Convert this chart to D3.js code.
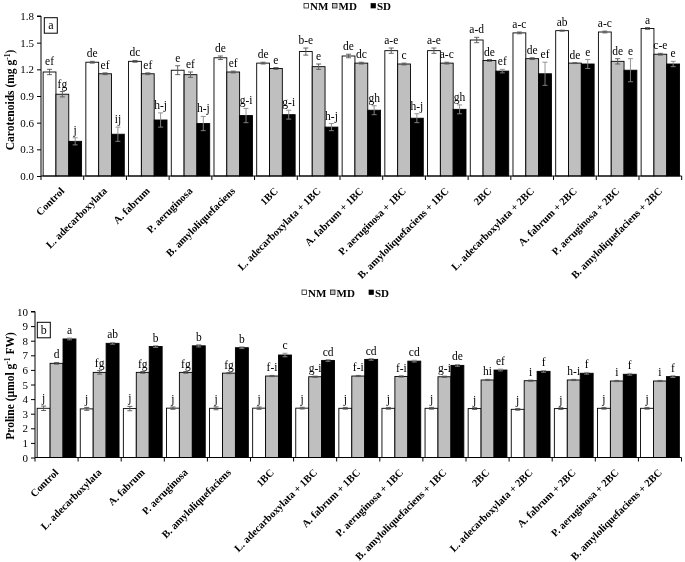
<!DOCTYPE html>
<html><head><meta charset="utf-8">
<script src="https://cdn.jsdelivr.net/npm/d3@7/dist/d3.min.js"></script>
<style>body{margin:0;background:#fff}svg{display:block;will-change:transform;-webkit-font-smoothing:antialiased}</style>
</head><body>
<svg id="c" width="685" height="562"></svg>
<script>
const categories = ["Control","L. adecarboxylata","A. fabrum","P. aeruginosa","B. amyloliquefaciens","1BC","L. adecarboxylata + 1BC","A. fabrum + 1BC","P. aeruginosa + 1BC","B. amyloliquefaciens + 1BC","2BC","L. adecarboxylata + 2BC","A. fabrum + 2BC","P. aeruginosa + 2BC","B. amyloliquefaciens + 2BC"];
const seriesNames = ["NM","MD","SD"];

// Carotenoids (mg g-1)
const carNM = [1.17,1.28,1.29,1.19,1.33,1.27,1.40,1.35,1.41,1.41,1.53,1.61,1.635,1.62,1.66];
const carMD = [0.92,1.15,1.15,1.14,1.17,1.21,1.23,1.27,1.26,1.27,1.30,1.32,1.27,1.29,1.37];
const carSD = [0.39,0.47,0.63,0.59,0.68,0.69,0.55,0.74,0.65,0.75,1.18,1.15,1.26,1.19,1.26];
const carNMerr = [0.03,0.01,0.01,0.05,0.02,0.01,0.04,0.02,0.03,0.03,0.03,0.01,0.006,0.01,0.01];
const carMDerr = [0.03,0.01,0.01,0.03,0.01,0.01,0.03,0.01,0.01,0.01,0.01,0.01,0.005,0.03,0.01];
const carSDerr = [0.04,0.08,0.08,0.08,0.08,0.05,0.04,0.05,0.05,0.05,0.02,0.13,0.05,0.13,0.03];
const carNMlet = ["ef","de","dc","e","de","de","b-e","de","a-e","a-e","a-d","a-c","ab","a-c","a"];
const carMDlet = ["fg","ef","ef","ef","ef","e","e","dc","c","a-c","de","de","de","de","c-e"];
const carSDlet = ["j","ij","h-j","h-j","g-i","g-i","h-j","gh","h-j","gh","ef","ef","e","e","e"];
const carTicks = [0,0.3,0.6,0.9,1.2,1.5,1.8];

// Proline (µmol g-1 FW)
const proNM = [3.37,3.33,3.35,3.38,3.37,3.38,3.38,3.37,3.37,3.37,3.35,3.30,3.35,3.37,3.37];
const proMD = [6.45,5.83,5.83,5.83,5.78,5.58,5.53,5.58,5.55,5.53,5.31,5.26,5.31,5.24,5.24];
const proSD = [8.12,7.82,7.60,7.65,7.52,7.02,6.65,6.72,6.60,6.31,5.99,5.90,5.77,5.70,5.54];
const proNMerr = [0.15,0.10,0.15,0.08,0.10,0.08,0.06,0.06,0.06,0.06,0.06,0.06,0.06,0.06,0.06];
const proMDerr = [0.06,0.12,0.06,0.06,0.04,0.04,0.04,0.04,0.04,0.04,0.04,0.04,0.04,0.04,0.04];
const proSDerr = [0.06,0.06,0.06,0.08,0.06,0.12,0.06,0.06,0.06,0.06,0.06,0.06,0.06,0.06,0.06];
const proNMlet = ["j","j","j","j","j","j","j","j","j","j","j","j","j","j","j"];
const proMDlet = ["d","fg","fg","fg","fg","f-i","g-i","f-i","f-i","g-i","hi","i","h-i","i","i"];
const proSDlet = ["a","ab","b","b","b","c","cd","cd","cd","de","ef","f","f","f","f"];
const proTicks = [0,1,2,3,4,5,6,7,8,9,10];

const svg = d3.select("#c");
const FONT = "'Liberation Serif','Times New Roman',Times,serif";
const fills = {NM:"#ffffff", MD:"#bfbfbf", SD:"#000000"};

function panel(cfg){
  const g = svg.append("g");
  const x0 = d3.scaleBand().domain(categories).range([cfg.x0, cfg.x1]).paddingInner(0.1).paddingOuter(0.05);
  const x1 = d3.scaleBand().domain(seriesNames).range([0, x0.bandwidth()]);
  const y = d3.scaleLinear().domain(cfg.domain).range([cfg.yb, cfg.yt]);
  const step = x0.step();

  const vals = {NM:cfg.nm, MD:cfg.md, SD:cfg.sd};
  const errs = {NM:cfg.nme, MD:cfg.mde, SD:cfg.sde};
  const lets = {NM:cfg.nml, MD:cfg.mdl, SD:cfg.sdl};

  const rows = [];
  categories.forEach((c,i)=>seriesNames.forEach(s=>rows.push({c,s,v:vals[s][i],e:errs[s][i],l:lets[s][i]})));
  const cx = d=>x0(d.c)+x1(d.s)+x1.bandwidth()/2;

  g.selectAll("rect.bar").data(rows).enter().append("rect")
    .attr("x", d=>x0(d.c)+x1(d.s)).attr("width", x1.bandwidth())
    .attr("y", d=>y(d.v)).attr("height", d=>y(0)-y(d.v))
    .attr("fill", d=>fills[d.s]).attr("stroke","#000").attr("stroke-width",0.9);

  // error bars
  const eb = g.selectAll("g.eb").data(rows).enter().append("g")
    .attr("stroke", d=>d.s==="SD" ? "#8a8a8a" : "#555").attr("stroke-width",0.9);
  eb.append("line").attr("x1",cx).attr("x2",cx)
    .attr("y1",d=>y(d.v+d.e)).attr("y2",d=>y(d.v-d.e));
  [1,-1].forEach(sg=>{
    eb.append("line").attr("x1",d=>cx(d)-2.5).attr("x2",d=>cx(d)+2.5)
      .attr("y1",d=>y(d.v+sg*d.e)).attr("y2",d=>y(d.v+sg*d.e));
  });

  // letters
  g.selectAll("text.let").data(rows).enter().append("text")
    .attr("x", cx).attr("y", d=>y(d.v+d.e)-4)
    .attr("text-anchor","middle").attr("fill","#000")
    .attr("font-family",FONT).attr("font-size",11.5).text(d=>d.l);

  // y axis
  const ya = d3.axisLeft(y).tickValues(cfg.ticks).tickSize(4).tickPadding(3).tickFormat(cfg.fmt);
  const yg = g.append("g").attr("transform",`translate(${cfg.x0},0)`).call(ya);
  yg.select(".domain").attr("stroke","#000").attr("d",`M-4,${cfg.yt}H0V${cfg.yb}`);
  yg.selectAll("text").attr("font-family",FONT).attr("font-size",11).attr("fill","#000");
  yg.selectAll("line").attr("stroke","#000");

  // x axis
  const xa = d3.axisBottom(x0).tickSize(0).tickFormat("");
  const xg = g.append("g").attr("transform",`translate(0,${cfg.yb})`).call(xa);
  xg.select(".domain").attr("d",`M${cfg.x0},0H${cfg.x1}`).attr("stroke","#000");
  xg.selectAll(".tick").remove();
  g.selectAll("line.xt").data(categories.concat(["_end"])).enter().append("line")
    .attr("x1",(d,i)=>cfg.x0+i*step).attr("x2",(d,i)=>cfg.x0+i*step)
    .attr("y1",cfg.yb).attr("y2",cfg.yb+4).attr("stroke","#000");
  g.selectAll("text.xl").data(categories).enter().append("text")
    .attr("transform",d=>`translate(${x0(d)+x0.bandwidth()/2},${cfg.yb+13}) rotate(-45)`)
    .attr("text-anchor","end").attr("dy","0.35em").attr("fill","#000")
    .attr("font-family",FONT).attr("font-weight","bold").attr("font-size",10.5).text(d=>d);

  // panel label box
  g.append("rect").attr("x",cfg.bx).attr("y",cfg.by).attr("width",13).attr("height",15.5)
    .attr("fill","#fff").attr("stroke","#000").attr("stroke-width",1);
  g.append("text").attr("x",cfg.bx+6.5).attr("y",cfg.by+11.5).attr("text-anchor","middle").attr("fill","#000")
    .attr("font-family",FONT).attr("font-size",12).text(cfg.label);

  // y title
  const t = g.append("text").attr("transform",`translate(${cfg.tx},${cfg.ty}) rotate(-90)`)
    .attr("text-anchor","middle").attr("fill","#000").attr("font-family",FONT).attr("font-weight","bold").attr("font-size",11.5);
  t.append("tspan").text(cfg.title[0]);
  t.append("tspan").attr("dy",-4).attr("font-size",7.5).text("-1");
  t.append("tspan").attr("dy",4).text(cfg.title[1]);

  // legend
  const lg = g.append("g").attr("transform",`translate(${cfg.lx},${cfg.ly})`);
  const lx = [0, 28.5, 67];
  seriesNames.forEach((s,i)=>{
    lg.append("rect").attr("x",lx[i]).attr("y",-3).attr("width",4.5).attr("height",4.5)
      .attr("fill",fills[s]).attr("stroke","#000").attr("stroke-width",0.7);
    lg.append("text").attr("x",lx[i]+6).attr("y",0).attr("dy","0.35em").attr("fill","#000")
      .attr("font-family",FONT).attr("font-weight","bold").attr("font-size",11).text(s);
  });
}

panel({x0:41, x1:681.7, yb:176, yt:16, domain:[0,1.8], ticks:carTicks, fmt:d3.format(".1f"),
  nm:carNM, md:carMD, sd:carSD, nme:carNMerr, mde:carMDerr, sde:carSDerr, nml:carNMlet, mdl:carMDlet, sdl:carSDlet,
  bx:44.3, by:17.7, label:"a", tx:14, ty:100, title:["Carotenoids (mg g",")"], lx:304, ly:6.5});

panel({x0:35, x1:681.5, yb:457.5, yt:311.5, domain:[0,10], ticks:proTicks, fmt:d3.format("d"),
  nm:proNM, md:proMD, sd:proSD, nme:proNMerr, mde:proMDerr, sde:proSDerr, nml:proNMlet, mdl:proMDlet, sdl:proSDlet,
  bx:37.3, by:322.3, label:"b", tx:14, ty:386, title:["Proline (µmol g"," FW)"], lx:302, ly:293});
</script>
</body></html>
